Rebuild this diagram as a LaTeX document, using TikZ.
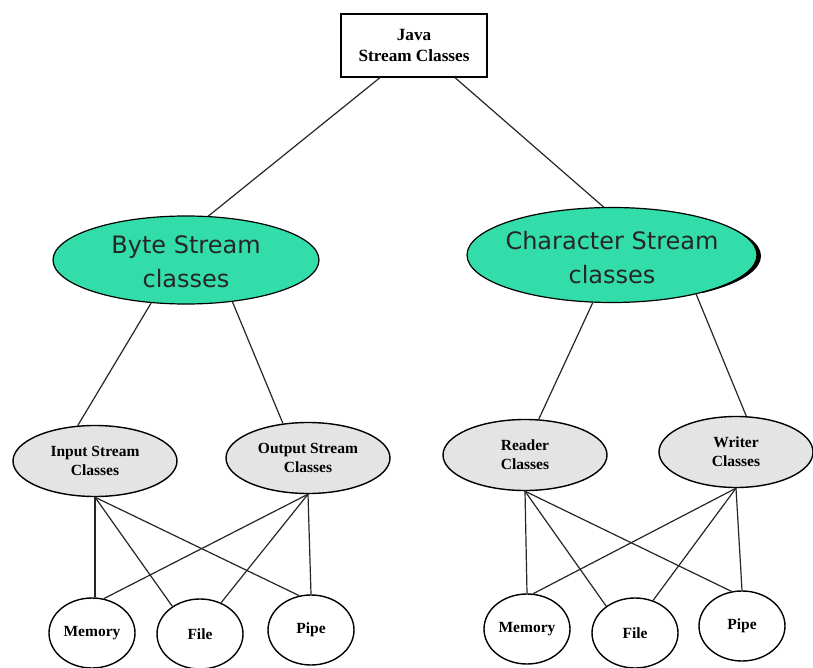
\documentclass[tikz,border=0pt]{standalone}
\usepackage{fontspec}
\setmainfont{Liberation Serif}
\newfontfamily\labelsans{DejaVu Sans}
\usetikzlibrary{shapes.geometric}
\definecolor{mint}{HTML}{33DDAA}
\definecolor{greyfill}{HTML}{E4E4E4}
\tikzset{
  conn/.style={line width=1.2pt, black!85},
  topbox/.style={draw, line width=1.3pt, fill=white, minimum width=146pt, minimum height=63pt, inner sep=0pt, align=center, font=\fontsize{17.2}{21}\selectfont\bfseries},
  bigell/.style={ellipse, draw, line width=1.2pt, fill=mint, inner sep=0pt},
  bigtext/.style={inner sep=0pt, align=center, text=black!85, font=\labelsans\fontsize{24}{34}\selectfont},
  midell/.style={ellipse, draw, line width=1.4pt, fill=greyfill, inner sep=0pt, minimum width=164pt, minimum height=71pt, align=center, font=\fontsize{15.5}{19}\selectfont\bfseries},
  leaf/.style={ellipse, draw, line width=1.4pt, fill=white, inner sep=0pt, minimum width=86pt, minimum height=70pt, font=\fontsize{15.5}{19}\selectfont\bfseries}
}
\begin{document}
\begin{tikzpicture}[x=1pt, y=-1pt]
\useasboundingbox (0,0) rectangle (813,668);
\fill[white] (0,0) rectangle (813,668);

% top
\node[topbox] (top) at (414,45.5) {Java\\Stream Classes};

% shadow crescent behind character ellipse
\begin{scope}
\clip (700,228) rectangle (770,292);
\fill[black] (617,256) ellipse [x radius=144pt, y radius=46pt];
\end{scope}

\node[bigell, minimum width=266pt, minimum height=88pt] (byte) at (186,260) {};
\node[bigtext] (bytelbl) at (186,262) {Byte Stream\\classes};
\node[bigell, minimum width=290pt, minimum height=95pt] (char) at (612,255) {};
\node[bigtext] (charlbl) at (612,258) {Character Stream\\classes};

\node[midell] (input) at (95,461) {Input Stream\\Classes};
\node[midell] (output) at (308,458) {Output Stream\\Classes};
\node[midell] (reader) at (525,455) {Reader\\Classes};
\node[midell, minimum width=154pt] (writer) at (736,452) {Writer\\Classes};

\node[leaf] (mem1) at (92,633) {Memory};
\node[leaf] (file1) at (200,634) {File};
\node[leaf] (pipe1) at (311,630) {Pipe};
\node[leaf] (mem2) at (527,629) {Memory};
\node[leaf] (file2) at (635,633) {File};
\node[leaf] (pipe2) at (742,626) {Pipe};

% connectors
\draw[conn] ([xshift=-34pt]top.south) -- (byte.63);
\draw[conn] ([xshift=41pt]top.south) -- (char.100);

\draw[conn] (byte.231) -- (input.116);
\draw[conn] (byte.318) -- (output.126);
\draw[conn] (char.248) -- (reader.69);
\draw[conn] (char.335) -- (writer.74);

\draw[conn] (input.south) -- ([xshift=3pt]mem1.north);
\draw[conn] (input.south) -- (file1.135);
\draw[conn] (input.south) -- (pipe1.109);
\draw[conn] (output.south) -- (mem1.71);
\draw[conn] (output.south) -- (file1.56);
\draw[conn] (output.south) -- (pipe1.north);

\draw[conn] (reader.south) -- (mem2.north);
\draw[conn] (reader.south) -- (file2.137);
\draw[conn] (reader.south) -- (pipe2.107);
\draw[conn] (writer.south) -- (mem2.80);
\draw[conn] (writer.south) -- (file2.61);
\draw[conn] (writer.south) -- (pipe2.north);
\end{tikzpicture}
\end{document}
